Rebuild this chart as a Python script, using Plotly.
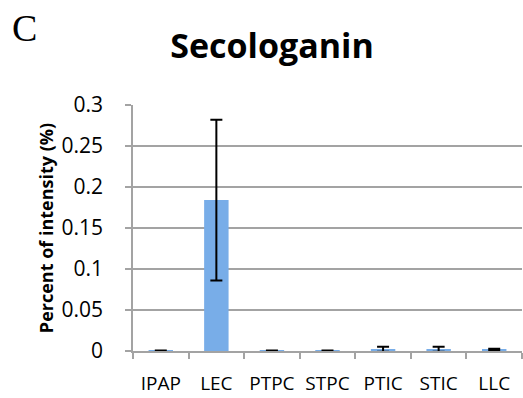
import plotly.graph_objects as go

categories = ["IPAP", "LEC", "PTPC", "STPC", "PTIC", "STIC", "LLC"]
values = [0.0003, 0.184, 0.0003, 0.0003, 0.0022, 0.0022, 0.0018]
errors = [0.0002, 0.098, 0.0002, 0.0002, 0.003, 0.003, 0.001]
y_ticks = [0, 0.05, 0.1, 0.15, 0.2, 0.25, 0.3]
y_ticklabels = ["0", "0.05", "0.1", "0.15", "0.2", "0.25", "0.3"]

fig = go.Figure()
fig.add_trace(go.Bar(
    x=categories, y=values,
    marker=dict(color="#78ade8", line=dict(width=0)),
    width=0.44,
    error_y=dict(type="data", array=errors, visible=True, color="black", thickness=2, width=6),
))

fig.update_layout(
    width=523, height=398,
    margin=dict(l=133, r=1, t=105, b=47),
    paper_bgcolor="white", plot_bgcolor="white",
    showlegend=False,
    font=dict(family="Open Sans", color="black"),
    title=dict(text="<b>Secologanin</b>", x=0.52, xanchor="center", y=0.885, yanchor="middle",
               font=dict(family="Open Sans", size=34, color="black")),
    xaxis=dict(
        type="category", showgrid=False, showline=True, linecolor="#a3a3a3", linewidth=1.5,
        ticks="outside", tickson="boundaries", ticklen=6, tickcolor="#a3a3a3", tickwidth=1.5,
        ticklabelstandoff=14,
        tickfont=dict(family="Open Sans", size=19, color="black"),
    ),
    yaxis=dict(
        range=[0, 0.3], tickvals=y_ticks, ticktext=y_ticklabels,
        showgrid=True, gridcolor="#a3a3a3", gridwidth=1.5,
        showline=True, linecolor="#a3a3a3", linewidth=1.5,
        ticks="outside", ticklen=6, tickcolor="#a3a3a3", tickwidth=1.5,
        ticklabelstandoff=18,
        tickfont=dict(family="Open Sans", size=21, color="black"),
        title=dict(text="<b>Percent of intensity (%)</b>", standoff=3,
                   font=dict(family="Open Sans", size=18, color="black")),
        zeroline=False,
    ),
)
fig.add_annotation(text="C", xref="paper", yref="paper", x=-0.316, y=1.313, xanchor="left", yanchor="middle",
                   showarrow=False, font=dict(family="Liberation Serif", size=38, color="black"))

fig.write_html("out.html")
